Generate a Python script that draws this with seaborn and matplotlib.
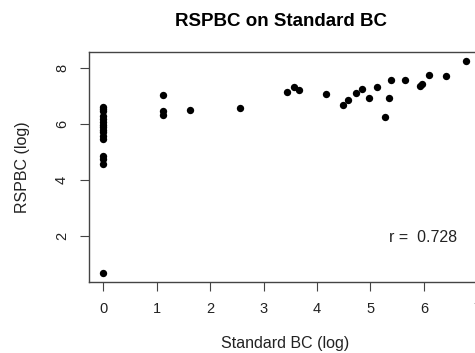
import numpy as np
import pandas as pd
import seaborn as sns
import matplotlib
matplotlib.use("Agg")
import matplotlib.pyplot as plt

# values
standard_bc = [0, 0, 0, 0, 0, 0, 0, 0, 0, 0, 0, 0, 0, 0, 0, 0,
               1.11, 1.11, 1.11, 1.63, 2.56,
               3.44, 3.56, 3.67, 4.16, 4.48, 4.58, 4.73, 4.85, 4.97,
               5.12, 5.27, 5.35, 5.39, 5.64, 5.93, 5.96, 6.10, 6.41, 6.78]
rspbc = [6.62, 6.55, 6.45, 6.30, 6.18, 6.08, 5.97, 5.88, 5.78, 5.70, 5.58, 5.45,
         4.86, 4.76, 4.55, 0.67,
         7.04, 6.48, 6.32, 6.50, 6.57,
         7.15, 7.31, 7.20, 7.06, 6.69, 6.85, 7.12, 7.24, 6.93,
         7.32, 6.24, 6.93, 7.57, 7.57, 7.37, 7.42, 7.76, 7.70, 8.27]
r_label = "r =  0.728"

df = pd.DataFrame({"Standard BC": standard_bc, "RSPBC": rspbc})

sns.set_theme(style="ticks")
plt.rcParams['font.family'] = ['Liberation Sans', 'DejaVu Sans']

fig = plt.figure(figsize=(4.75, 3.53), dpi=100)
ax = fig.add_axes([0.1874, 0.2011, 0.8253, 0.6516])

sns.scatterplot(data=df, x="Standard BC", y="RSPBC", color="black", s=28,
                edgecolor="black", linewidth=0, ax=ax, legend=False)

ax.set_xlim(-0.27, 7.07)
ax.set_ylim(0.345, 8.575)
ax.set_xticks(range(0, 8))
ax.set_yticks([2, 4, 6, 8])
for sp in ax.spines.values():
    sp.set_color("#444444")
    sp.set_linewidth(1.0)
ax.tick_params(direction="out", length=6.5, width=0.8, color="#444444",
               labelsize=10.5, labelcolor="#222222", pad=8)
for lab in ax.get_yticklabels():
    lab.set_rotation(90)
    lab.set_va("center")

ax.set_xlabel("Standard BC (log)", fontsize=11.5, color="#222222", labelpad=14)
ax.set_ylabel("RSPBC (log)", fontsize=11.5, color="#222222", labelpad=18)
fig.text(0.592, 0.94, "RSPBC on Standard BC", ha="center", va="center",
         fontsize=13.5, fontweight="bold", color="black")
ax.text(5.98, 1.93, r_label, ha="center", va="center", fontsize=11.5, color="#222222")

fig.savefig("out.png", dpi=100)
